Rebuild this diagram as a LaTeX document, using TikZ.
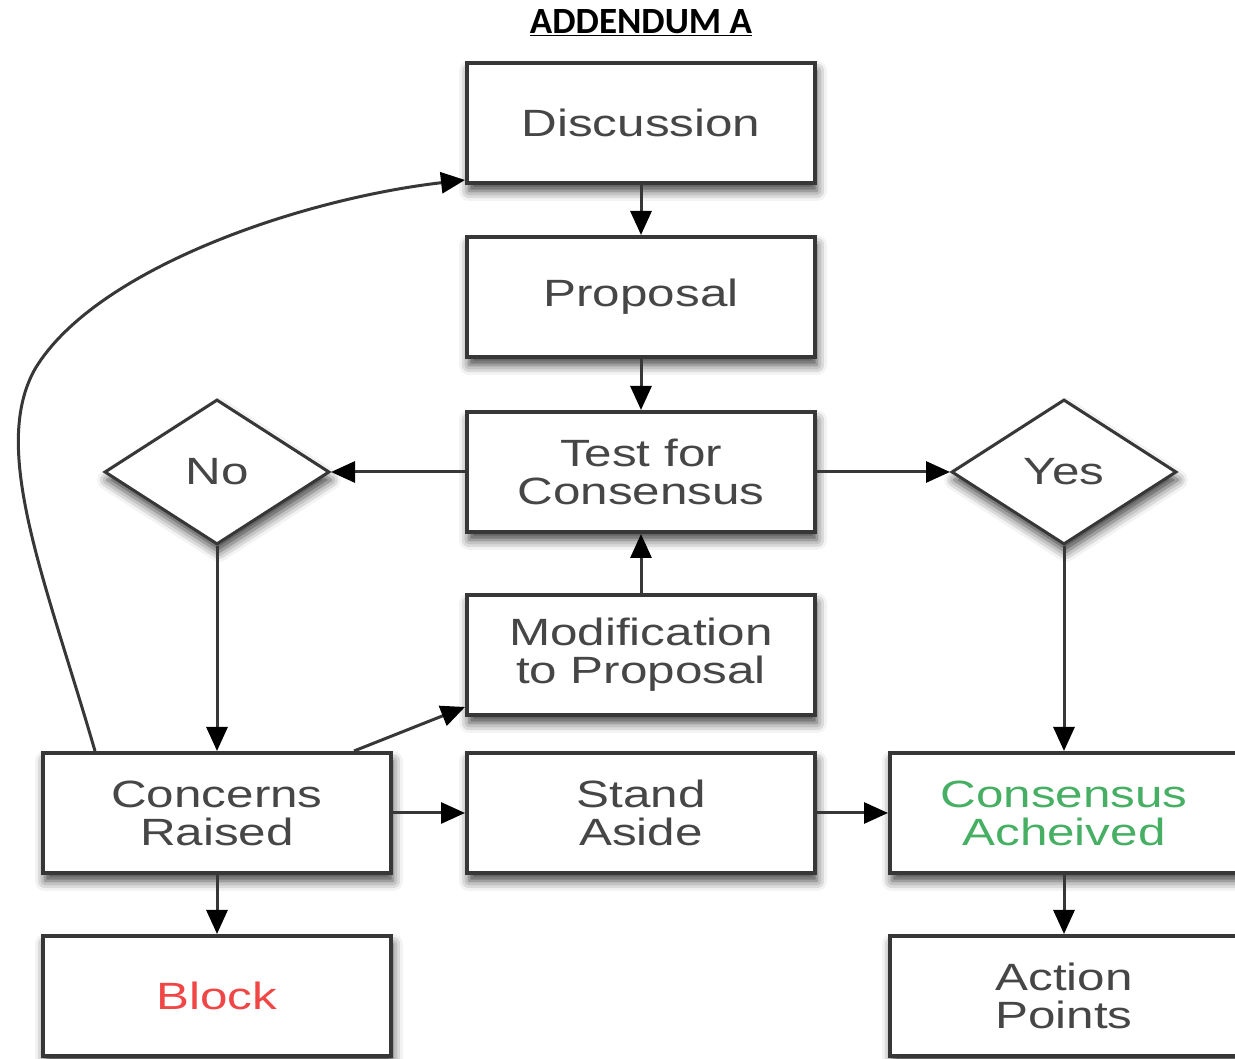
\documentclass[tikz,border=0pt]{standalone}
\usepackage{fontspec}
\setmainfont[FakeStretch=1.3]{Liberation Sans}
\newfontfamily\titlefont{Carlito}
\usetikzlibrary{arrows.meta,shapes.geometric,shadows.blur}
\definecolor{boxline}{RGB}{55,55,55}
\definecolor{boxtext}{RGB}{70,70,70}
\definecolor{blockred}{RGB}{240,70,70}
\definecolor{agreegreen}{RGB}{70,175,100}

\begin{document}
\begin{tikzpicture}[x=1pt,y=1pt,
  flowbox/.style={draw=boxline, line width=4pt, fill=white, minimum width=348pt,
    minimum height=120pt, inner sep=0pt, align=center, text=boxtext,
    font=\fontsize{38}{38}\selectfont,
    blur shadow={shadow xshift=2pt, shadow yshift=-8pt, shadow blur radius=10pt, shadow opacity=75}},
  choice/.style={flowbox, diamond, line width=3pt, minimum width=225pt, minimum height=145pt},
  link/.style={draw=boxline, line width=3pt, -{Triangle[length=24pt,width=21pt,black]}}]
\useasboundingbox (0,0) rectangle (1235,1059);
\node (title) at (641,1036) {\titlefont\bfseries\fontsize{37}{37}\selectfont\underline{ADDENDUM A}};
% main column
\node[flowbox] (disc) at (641,936) {Discussion};
\node[flowbox] (prop) at (641,762) {Proposal};
\node[flowbox] (test) at (641,587) {Test for\\Consensus};
\node[flowbox] (mod) at (641,404) {Modification\\to Proposal};
\node[flowbox] (stand) at (641,246) {Stand\\Aside};
% decisions
\node[choice] (no) at (217,587) {No};
\node[choice] (yes) at (1064,587) {Yes};
% bottom rows
\node[flowbox] (conc) at (217,246) {Concerns\\Raised};
\node[flowbox, text=agreegreen] (cons) at (1064,246) {Consensus\\Acheived};
\node[flowbox, text=blockred] (block) at (217,63) {Block};
\node[flowbox] (action) at (1064,63) {Action\\Points};
% connectors
\draw[link] (disc) -- (prop);
\draw[link] (prop) -- (test);
\draw[link] (test) -- (no);
\draw[link] (test) -- (yes);
\draw[link] (mod) -- (test);
\draw[link] (no) -- (conc);
\draw[link] (yes) -- (cons);
\draw[link] (conc) -- (stand);
\draw[link] (stand) -- (cons);
\draw[link] (conc) -- (block);
\draw[link] (cons) -- (action);
\draw[link] ([xshift=-39pt]conc.north east) -- ([yshift=10pt]mod.south west);
\draw[link] ([xshift=-122pt]conc.north) .. controls (45,480) and (-10,610) .. (35,690)
  .. controls (95,790) and (300,860) .. ([yshift=5pt]disc.south west);
\end{tikzpicture}
\end{document}
